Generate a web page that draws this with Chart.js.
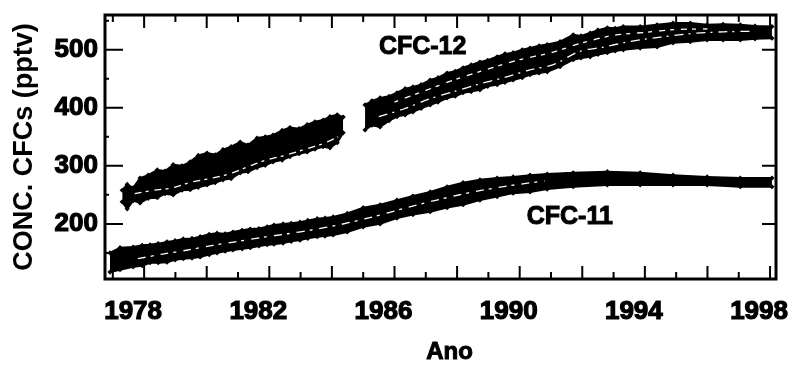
<!DOCTYPE html>
<html>
<head>
<meta charset="utf-8">
<script src="https://cdn.jsdelivr.net/npm/chart.js@4.4.1/dist/chart.umd.min.js"></script>
<style>
  html, body { margin: 0; padding: 0; background: #fff; }
  #wrap { width: 788px; height: 365px; }
</style>
</head>
<body>
<div id="wrap"><canvas id="c" width="788" height="365"></canvas></div>
<script>
// ---------- data ----------
const xTickLabels = [1978, 1982, 1986, 1990, 1994, 1998];
const yTickValues = [200, 300, 400, 500];
const xMin = 1976.75, xMax = 1998.19;
const yMin = 105, yMax = 560;

// CFC-12, first measurement segment (upper / lower edge of the band)
const cfc12aYears = [1977.30, 1977.46, 1977.65, 1977.87, 1978.13, 1978.42, 1978.67, 1978.93, 1979.21, 1979.47, 1979.73, 1980.01, 1980.27, 1980.52, 1980.78, 1981.07, 1981.32, 1981.61, 1981.87, 1982.12, 1982.41, 1982.66, 1982.95, 1983.21, 1983.46, 1983.72, 1983.94, 1984.17, 1984.36];
const cfc12aUpper = [258, 268, 262, 279, 284, 293, 291, 302, 300, 307, 318, 322, 319, 328, 333, 341, 336, 348, 350, 353, 361, 366, 364, 371, 376, 379, 385, 388, 384];
const cfc12aLower = [238, 226, 240, 236, 244, 245, 252, 250, 258, 259, 263, 267, 271, 276, 278, 288, 290, 297, 301, 307, 310, 316, 321, 324, 329, 333, 331, 340, 357];

// CFC-12, second segment
const cfc12bYears = [1985.06, 1985.28, 1985.54, 1985.83, 1986.08, 1986.34, 1986.59, 1986.85, 1987.14, 1987.39, 1987.68, 1987.94, 1988.19, 1988.45, 1988.73, 1988.98, 1989.28, 1989.53, 1989.79, 1990.08, 1990.33, 1990.62, 1990.88, 1991.29, 1991.71, 1991.96, 1992.25, 1992.50, 1992.80, 1993.05, 1993.31, 1993.85, 1994.39, 1994.90, 1995.45, 1995.99, 1996.50, 1997.05, 1997.52, 1998.06];
const cfc12bUpper = [405, 412, 417, 420, 426, 433, 436, 440, 448, 452, 460, 463, 469, 474, 479, 482, 488, 493, 495, 500, 503, 507, 509, 514, 526, 524, 529, 534, 538, 537, 540, 540, 543, 546, 546, 543, 544, 543, 541, 540];
const cfc12bLower = [362, 370, 367, 378, 385, 388, 393, 399, 405, 410, 417, 420, 426, 428, 431, 437, 440, 444, 448, 452, 457, 460, 462, 471, 483, 486, 488, 492, 495, 498, 500, 503, 505, 512, 514, 517, 517, 517, 519, 520];

// CFC-11
const cfc11Years = [1976.91, 1977.23, 1977.65, 1977.94, 1978.19, 1978.45, 1978.73, 1978.99, 1979.25, 1979.53, 1979.79, 1980.08, 1980.33, 1980.59, 1980.84, 1981.13, 1981.39, 1981.67, 1981.93, 1982.15, 1982.44, 1982.70, 1982.98, 1983.23, 1983.53, 1983.78, 1984.04, 1984.49, 1985.00, 1985.54, 1986.08, 1986.59, 1987.14, 1987.68, 1988.19, 1988.73, 1989.28, 1989.79, 1990.33, 1990.88, 1991.71, 1992.80, 1993.85, 1994.90, 1995.99, 1997.05, 1998.06];
const cfc11Upper = [150, 159, 160, 163, 164, 166, 169, 171, 174, 175, 178, 182, 184, 183, 186, 189, 191, 192, 195, 198, 200, 201, 203, 206, 209, 210, 212, 218, 228, 233, 241, 248, 255, 264, 271, 276, 279, 281, 284, 286, 288, 290, 288, 284, 281, 279, 279];
const cfc11Lower = [117, 121, 126, 128, 133, 133, 134, 138, 140, 141, 143, 147, 150, 153, 155, 157, 159, 162, 164, 165, 167, 170, 172, 175, 178, 179, 181, 186, 195, 200, 210, 216, 221, 228, 233, 241, 247, 253, 255, 260, 264, 267, 267, 267, 267, 264, 264];

// light streaks seen inside the bands
const streak12aYears = [1977.7, 1978.3, 1978.9, 1979.5, 1980.1, 1980.7, 1981.3, 1981.9, 1982.5, 1983.1, 1983.7, 1984.2];
const streak12aVals  = [252, 258, 262, 272, 278, 286, 298, 310, 318, 328, 338, 350];
const streak12bYears = [1985.5, 1986.3, 1987.1, 1987.9, 1988.7, 1989.5, 1990.3, 1991.1, 1991.9, 1992.7, 1993.5, 1994.5, 1995.5, 1996.5, 1997.5];
const streak12bVals  = [385, 398, 415, 428, 441, 452, 465, 475, 497, 505, 514, 522, 528, 531, 532];
const streak12cYears = [1986.0, 1987.0, 1988.0, 1989.0, 1990.0, 1991.0, 1992.0, 1993.0, 1994.0, 1995.0, 1996.0];
const streak12cVals  = [410, 430, 450, 467, 483, 495, 512, 525, 530, 535, 536];
const streak11Years = [1977.8, 1978.6, 1979.4, 1980.2, 1981.0, 1981.8, 1982.6, 1983.4, 1984.2, 1985.3, 1986.4, 1987.5, 1988.6, 1989.7, 1990.8];
const streak11Vals  = [140, 148, 155, 163, 170, 177, 183, 190, 198, 212, 228, 243, 256, 266, 274];

// ---------- helpers ----------
const pts = (xs, ys) => xs.map((x, i) => ({ x: x, y: ys[i] }));
const FONT = '"Liberation Sans", Arial, Helvetica, sans-serif';

function bandPair(years, upper, lower) {
  const edge = { borderColor: '#000', borderWidth: 2, pointRadius: 2.6, pointStyle: 'rectRot',
                 pointBackgroundColor: '#000', pointBorderColor: '#000', pointBorderWidth: 0, tension: 0, order: 2 };
  return [
    Object.assign({ data: pts(years, upper), fill: false }, edge),
    Object.assign({ data: pts(years, lower), fill: '-1', backgroundColor: '#000' }, edge)
  ];
}
function streak(years, vals, dash) {
  return { data: pts(years, vals), borderColor: '#fff', borderWidth: 1.3, borderDash: dash, pointRadius: 0, fill: false, tension: 0.3, order: 1 };
}

const datasets = [
  ...bandPair(cfc12aYears, cfc12aUpper, cfc12aLower),
  ...bandPair(cfc12bYears, cfc12bUpper, cfc12bLower),
  ...bandPair(cfc11Years, cfc11Upper, cfc11Lower),
  streak(streak12aYears, streak12aVals, [7, 4, 3, 6]),
  streak(streak12bYears, streak12bVals, [9, 5, 2, 6]),
  streak(streak12cYears, streak12cVals, [4, 7, 6, 5]),
  streak(streak11Years, streak11Vals, [8, 5, 3, 7])
];

// frame, inward ticks and in-plot labels
const decorPlugin = {
  id: 'decor',
  afterDraw(chart) {
    const { ctx, chartArea: a, scales: { x, y } } = chart;
    ctx.save();
    ctx.strokeStyle = '#000';
    ctx.lineWidth = 2;
    ctx.beginPath();
    for (let yr = 1977; yr <= 1998; yr++) {
      const px = x.getPixelForValue(yr);
      const len = (yr % 2 === 0) ? 13 : 7;
      ctx.moveTo(px, a.bottom); ctx.lineTo(px, a.bottom - len);
      ctx.moveTo(px, a.top); ctx.lineTo(px, a.top + len);
    }
    for (let v = 150; v <= 550; v += 50) {
      const py = y.getPixelForValue(v);
      const major = v % 100 === 0;
      ctx.moveTo(a.left, py); ctx.lineTo(a.left + (major ? 18 : 4), py);
      if (major) { ctx.moveTo(a.right, py); ctx.lineTo(a.right - 14, py); }
    }
    ctx.stroke();
    ctx.lineWidth = 3;
    ctx.strokeRect(a.left, a.top, a.right - a.left, a.bottom - a.top);

    ctx.fillStyle = '#000';
    ctx.strokeStyle = '#000';
    ctx.lineWidth = 1;
    ctx.textAlign = 'center';
    ctx.textBaseline = 'middle';
    ctx.font = 'bold 25px ' + FONT;
    const texts = [
      ['CFC-12', x.getPixelForValue(1986.9), y.getPixelForValue(505)],
      ['CFC-11', x.getPixelForValue(1991.6), y.getPixelForValue(212)]
    ];
    texts.forEach(([t, tx, ty]) => { ctx.fillText(t, tx, ty); ctx.strokeText(t, tx, ty); });
    ctx.font = 'bold 24px ' + FONT;
    const ax = (a.left + a.right) / 2 + 9;
    ctx.fillText('Ano', ax, 352); ctx.strokeText('Ano', ax, 352);
    ctx.restore();
  }
};

new Chart(document.getElementById('c'), {
  type: 'line',
  data: { datasets: datasets },
  options: {
    responsive: false,
    animation: false,
    events: [],
    layout: { padding: { left: 0, right: 12, top: 15, bottom: 0 } },
    plugins: { legend: { display: false }, tooltip: { enabled: false } },
    scales: {
      x: {
        type: 'linear', min: xMin, max: xMax,
        afterBuildTicks: s => { s.ticks = xTickLabels.map(v => ({ value: v })); },
        afterFit: s => { s.height = 86; s.paddingLeft = 0; s.paddingRight = 0; },
        grid: { display: false, drawTicks: false },
        border: { display: false },
        ticks: {
          color: '#000', padding: 17, labelOffset: -11, maxRotation: 0,
          font: { family: FONT, size: 26, weight: 'bold' },
          textStrokeColor: '#000', textStrokeWidth: 1.2,
          callback: v => String(v)
        }
      },
      y: {
        type: 'linear', min: yMin, max: yMax,
        afterBuildTicks: s => { s.ticks = yTickValues.map(v => ({ value: v })); },
        afterFit: s => { s.width = 105; s.paddingTop = 0; s.paddingBottom = 0; },
        grid: { display: false, drawTicks: false },
        border: { display: false },
        title: {
          display: true, text: 'CONC. CFCs (pptv)', color: '#000',
          font: { family: FONT, size: 27, weight: 'bold' },
          padding: { top: 8, bottom: 0 }
        },
        ticks: {
          color: '#000', padding: 7,
          font: { family: FONT, size: 26, weight: 'bold' },
          textStrokeColor: '#000', textStrokeWidth: 1.2,
          callback: v => String(v)
        }
      }
    }
  },
  plugins: [decorPlugin]
});
</script>
</body>
</html>
